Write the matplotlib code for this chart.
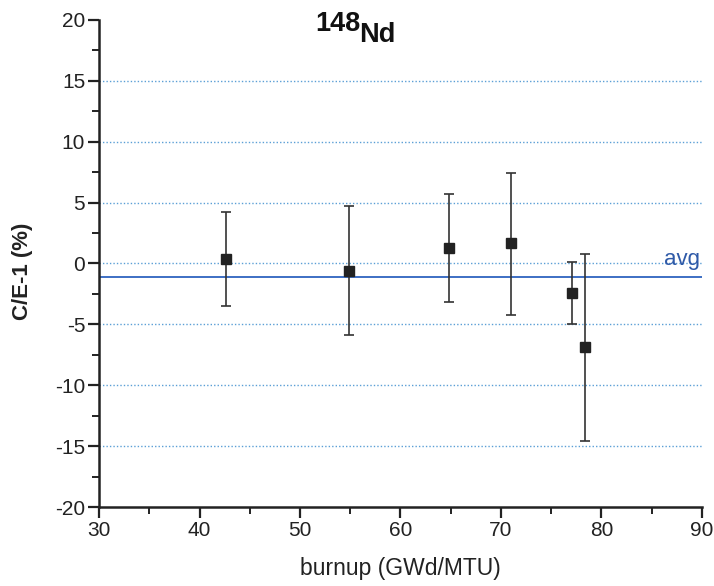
import matplotlib
matplotlib.use("Agg")
import matplotlib.pyplot as plt
import numpy as np

# data
burnup = [42.6, 54.9, 64.8, 71.0, 77.1, 78.4]
ce = [0.4, -0.6, 1.25, 1.65, -2.4, -6.85]
err_hi = [4.25, 4.7, 5.7, 7.45, 0.1, 0.8]
err_lo = [-3.45, -5.85, -3.2, -4.2, -5.0, -14.6]
avg = -1.1
grid_levels = [-15, -10, -5, 0, 5, 10, 15]

plt.rcParams["font.family"] = ["Liberation Sans", "DejaVu Sans"]
plt.rcParams["axes.unicode_minus"] = False

fig = plt.figure(figsize=(7.14, 5.86), dpi=100)
ax = fig.add_axes([0.1387, 0.1348, 0.8443, 0.8311])

for g in grid_levels:
    ax.axhline(g, color="#5b9fd6", linestyle=(0, (1, 1.5)), linewidth=1.0, zorder=1)

ax.axhline(avg, color="#3d6fc4", linewidth=1.4, zorder=2)
ax.text(89.8, avg + 0.6, "avg", color="#2f5aa8", fontsize=16, ha="right", va="bottom")

ce = np.array(ce)
yerr = [ce - np.array(err_lo), np.array(err_hi) - ce]
ax.errorbar(burnup, ce, yerr=yerr, fmt="s", color="#222222", ecolor="#333333",
            markersize=6.5, elinewidth=1.2, capsize=3.5, capthick=1.2, zorder=3)

ax.set_xlim(30, 90)
ax.set_ylim(-20, 20)
ax.set_xticks(np.arange(30, 91, 10))
ax.set_xticks(np.arange(35, 90, 10), minor=True)
ax.set_yticks(np.arange(-20, 21, 5))
ax.set_yticks(np.arange(-17.5, 20, 5), minor=True)
ax.tick_params(which="major", direction="out", length=8, width=1.6, labelsize=15,
               colors="#222222", pad=2)
ax.tick_params(which="minor", direction="out", length=5, width=1.4, colors="#222222")

for s in ["top", "right"]:
    ax.spines[s].set_visible(False)
for s in ["left", "bottom"]:
    ax.spines[s].set_linewidth(1.8)
    ax.spines[s].set_color("#222222")

ax.set_xlabel("burnup (GWd/MTU)", fontsize=16.5, color="#222222")
ax.set_ylabel("C/E-1 (%)", fontsize=16, fontweight="bold", color="#222222")
ax.xaxis.set_label_coords(0.5, -0.103)
ax.yaxis.set_label_coords(-0.109, 0.483)

fig.text(0.441, 0.981, "148", fontsize=19.5, fontweight="bold", color="#111111",
         ha="left", va="top")
fig.text(0.503, 0.963, "Nd", fontsize=19.5, fontweight="bold", color="#111111",
         ha="left", va="top")

fig.savefig("out.png", dpi=100)
